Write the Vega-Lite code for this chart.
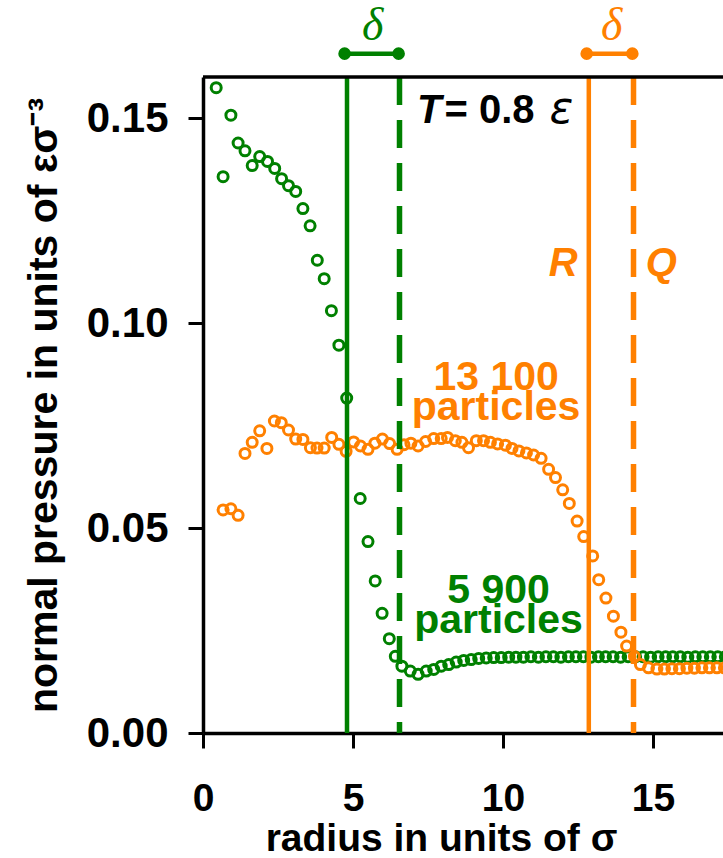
{
  "$schema": "https://vega.github.io/schema/vega-lite/v6.json",
  "width": 520,
  "height": 656,
  "autosize": {"type": "none"},
  "padding": {"left": 203, "top": 77, "right": 0, "bottom": 125},
  "background": "white",
  "config": {
    "view": {"stroke": null},
    "axis": {
      "grid": false,
      "labelFlush": false,
      "domainColor": "black",
      "domainWidth": 3.5,
      "tickColor": "black",
      "tickWidth": 3,
      "tickSize": 15,
      "labelFont": "Liberation Sans",
      "labelFontWeight": "bold",
      "labelFontSize": 39,
      "labelColor": "black",
      "titleFont": "Liberation Sans",
      "titleFontWeight": "bold",
      "titleFontSize": 39,
      "titleColor": "black"
    }
  },
  "datasets": {
    "pts": [
      {"r": 0.44, "p": 0.1574, "s": "5 900"},
      {"r": 0.67, "p": 0.1357, "s": "5 900"},
      {"r": 0.93, "p": 0.1507, "s": "5 900"},
      {"r": 1.17, "p": 0.1439, "s": "5 900"},
      {"r": 1.40, "p": 0.1420, "s": "5 900"},
      {"r": 1.64, "p": 0.1384, "s": "5 900"},
      {"r": 1.89, "p": 0.1406, "s": "5 900"},
      {"r": 2.15, "p": 0.1394, "s": "5 900"},
      {"r": 2.39, "p": 0.1377, "s": "5 900"},
      {"r": 2.62, "p": 0.1352, "s": "5 900"},
      {"r": 2.85, "p": 0.1335, "s": "5 900"},
      {"r": 3.09, "p": 0.1321, "s": "5 900"},
      {"r": 3.33, "p": 0.1279, "s": "5 900"},
      {"r": 3.57, "p": 0.1237, "s": "5 900"},
      {"r": 3.81, "p": 0.1153, "s": "5 900"},
      {"r": 4.04, "p": 0.1108, "s": "5 900"},
      {"r": 4.28, "p": 0.1030, "s": "5 900"},
      {"r": 4.53, "p": 0.0946, "s": "5 900"},
      {"r": 4.79, "p": 0.0817, "s": "5 900"},
      {"r": 5.24, "p": 0.0572, "s": "5 900"},
      {"r": 5.50, "p": 0.0467, "s": "5 900"},
      {"r": 5.74, "p": 0.0371, "s": "5 900"},
      {"r": 5.97, "p": 0.0292, "s": "5 900"},
      {"r": 6.21, "p": 0.0230, "s": "5 900"},
      {"r": 6.41, "p": 0.0187, "s": "5 900"},
      {"r": 6.63, "p": 0.0163, "s": "5 900"},
      {"r": 6.91, "p": 0.0151, "s": "5 900"},
      {"r": 7.17, "p": 0.0143, "s": "5 900"},
      {"r": 7.44, "p": 0.0151, "s": "5 900"},
      {"r": 7.69, "p": 0.0155, "s": "5 900"},
      {"r": 7.94, "p": 0.0163, "s": "5 900"},
      {"r": 8.19, "p": 0.0167, "s": "5 900"},
      {"r": 8.44, "p": 0.0173, "s": "5 900"},
      {"r": 8.69, "p": 0.0177, "s": "5 900"},
      {"r": 8.94, "p": 0.0179, "s": "5 900"},
      {"r": 9.19, "p": 0.0182, "s": "5 900"},
      {"r": 9.44, "p": 0.0183, "s": "5 900"},
      {"r": 9.69, "p": 0.0184, "s": "5 900"},
      {"r": 9.94, "p": 0.0184, "s": "5 900"},
      {"r": 10.19, "p": 0.0185, "s": "5 900"},
      {"r": 10.43, "p": 0.0185, "s": "5 900"},
      {"r": 10.68, "p": 0.0185, "s": "5 900"},
      {"r": 10.93, "p": 0.0186, "s": "5 900"},
      {"r": 11.18, "p": 0.0185, "s": "5 900"},
      {"r": 11.43, "p": 0.0186, "s": "5 900"},
      {"r": 11.68, "p": 0.0186, "s": "5 900"},
      {"r": 11.93, "p": 0.0185, "s": "5 900"},
      {"r": 12.18, "p": 0.0186, "s": "5 900"},
      {"r": 12.43, "p": 0.0186, "s": "5 900"},
      {"r": 12.68, "p": 0.0186, "s": "5 900"},
      {"r": 12.93, "p": 0.0185, "s": "5 900"},
      {"r": 13.18, "p": 0.0186, "s": "5 900"},
      {"r": 13.42, "p": 0.0186, "s": "5 900"},
      {"r": 13.67, "p": 0.0186, "s": "5 900"},
      {"r": 13.92, "p": 0.0185, "s": "5 900"},
      {"r": 14.17, "p": 0.0186, "s": "5 900"},
      {"r": 14.42, "p": 0.0186, "s": "5 900"},
      {"r": 14.67, "p": 0.0186, "s": "5 900"},
      {"r": 14.92, "p": 0.0185, "s": "5 900"},
      {"r": 15.17, "p": 0.0186, "s": "5 900"},
      {"r": 15.42, "p": 0.0186, "s": "5 900"},
      {"r": 15.66, "p": 0.0186, "s": "5 900"},
      {"r": 15.91, "p": 0.0186, "s": "5 900"},
      {"r": 16.16, "p": 0.0185, "s": "5 900"},
      {"r": 16.41, "p": 0.0186, "s": "5 900"},
      {"r": 16.66, "p": 0.0186, "s": "5 900"},
      {"r": 16.91, "p": 0.0186, "s": "5 900"},
      {"r": 17.16, "p": 0.0186, "s": "5 900"},
      {"r": 17.41, "p": 0.0186, "s": "5 900"},
      {"r": 0.67, "p": 0.0544, "s": "13 100"},
      {"r": 0.93, "p": 0.0547, "s": "13 100"},
      {"r": 1.17, "p": 0.0531, "s": "13 100"},
      {"r": 1.40, "p": 0.0682, "s": "13 100"},
      {"r": 1.64, "p": 0.0709, "s": "13 100"},
      {"r": 1.89, "p": 0.0737, "s": "13 100"},
      {"r": 2.13, "p": 0.0694, "s": "13 100"},
      {"r": 2.38, "p": 0.0761, "s": "13 100"},
      {"r": 2.61, "p": 0.0757, "s": "13 100"},
      {"r": 2.85, "p": 0.0739, "s": "13 100"},
      {"r": 3.09, "p": 0.0717, "s": "13 100"},
      {"r": 3.33, "p": 0.0716, "s": "13 100"},
      {"r": 3.58, "p": 0.0696, "s": "13 100"},
      {"r": 3.80, "p": 0.0695, "s": "13 100"},
      {"r": 4.04, "p": 0.0695, "s": "13 100"},
      {"r": 4.29, "p": 0.0721, "s": "13 100"},
      {"r": 4.53, "p": 0.0704, "s": "13 100"},
      {"r": 4.77, "p": 0.0687, "s": "13 100"},
      {"r": 5.02, "p": 0.0710, "s": "13 100"},
      {"r": 5.25, "p": 0.0700, "s": "13 100"},
      {"r": 5.50, "p": 0.0692, "s": "13 100"},
      {"r": 5.73, "p": 0.0707, "s": "13 100"},
      {"r": 5.98, "p": 0.0717, "s": "13 100"},
      {"r": 6.22, "p": 0.0706, "s": "13 100"},
      {"r": 6.47, "p": 0.0692, "s": "13 100"},
      {"r": 6.70, "p": 0.0703, "s": "13 100"},
      {"r": 6.93, "p": 0.0707, "s": "13 100"},
      {"r": 7.17, "p": 0.0700, "s": "13 100"},
      {"r": 7.42, "p": 0.0711, "s": "13 100"},
      {"r": 7.69, "p": 0.0718, "s": "13 100"},
      {"r": 7.94, "p": 0.0718, "s": "13 100"},
      {"r": 8.15, "p": 0.0721, "s": "13 100"},
      {"r": 8.41, "p": 0.0713, "s": "13 100"},
      {"r": 8.63, "p": 0.0709, "s": "13 100"},
      {"r": 8.85, "p": 0.0696, "s": "13 100"},
      {"r": 9.11, "p": 0.0713, "s": "13 100"},
      {"r": 9.35, "p": 0.0713, "s": "13 100"},
      {"r": 9.58, "p": 0.0709, "s": "13 100"},
      {"r": 9.82, "p": 0.0705, "s": "13 100"},
      {"r": 10.08, "p": 0.0702, "s": "13 100"},
      {"r": 10.30, "p": 0.0694, "s": "13 100"},
      {"r": 10.53, "p": 0.0688, "s": "13 100"},
      {"r": 10.78, "p": 0.0683, "s": "13 100"},
      {"r": 11.02, "p": 0.0678, "s": "13 100"},
      {"r": 11.27, "p": 0.0670, "s": "13 100"},
      {"r": 11.52, "p": 0.0643, "s": "13 100"},
      {"r": 11.75, "p": 0.0623, "s": "13 100"},
      {"r": 11.99, "p": 0.0593, "s": "13 100"},
      {"r": 12.21, "p": 0.0560, "s": "13 100"},
      {"r": 12.47, "p": 0.0517, "s": "13 100"},
      {"r": 12.69, "p": 0.0479, "s": "13 100"},
      {"r": 12.99, "p": 0.0432, "s": "13 100"},
      {"r": 13.19, "p": 0.0374, "s": "13 100"},
      {"r": 13.43, "p": 0.0329, "s": "13 100"},
      {"r": 13.68, "p": 0.0285, "s": "13 100"},
      {"r": 13.93, "p": 0.0246, "s": "13 100"},
      {"r": 14.12, "p": 0.0212, "s": "13 100"},
      {"r": 14.38, "p": 0.0187, "s": "13 100"},
      {"r": 14.58, "p": 0.0167, "s": "13 100"},
      {"r": 14.85, "p": 0.0159, "s": "13 100"},
      {"r": 15.13, "p": 0.0156, "s": "13 100"},
      {"r": 15.38, "p": 0.0156, "s": "13 100"},
      {"r": 15.63, "p": 0.0157, "s": "13 100"},
      {"r": 15.88, "p": 0.0157, "s": "13 100"},
      {"r": 16.13, "p": 0.0158, "s": "13 100"},
      {"r": 16.38, "p": 0.0158, "s": "13 100"},
      {"r": 16.63, "p": 0.0159, "s": "13 100"},
      {"r": 16.88, "p": 0.0159, "s": "13 100"},
      {"r": 17.13, "p": 0.0159, "s": "13 100"},
      {"r": 17.38, "p": 0.0159, "s": "13 100"}
    ],
    "vlines": [
      {"r": 4.80, "s": "5 900", "k": "solid"},
      {"r": 6.55, "s": "5 900", "k": "dashed"},
      {"r": 12.86, "s": "13 100", "k": "solid"},
      {"r": 14.35, "s": "13 100", "k": "dashed"}
    ],
    "brackets": [
      {"r": 4.72, "r2": 6.52, "p": 0.1657, "s": "5 900"},
      {"r": 12.79, "r2": 14.31, "p": 0.1657, "s": "13 100"}
    ],
    "ends": [
      {"r": 4.72, "p": 0.1657, "s": "5 900"},
      {"r": 6.52, "p": 0.1657, "s": "5 900"},
      {"r": 12.79, "p": 0.1657, "s": "13 100"},
      {"r": 14.31, "p": 0.1657, "s": "13 100"}
    ],
    "deltas": [
      {"r": 5.66, "p": 0.1690, "s": "5 900", "label": "δ"},
      {"r": 13.62, "p": 0.1690, "s": "13 100", "label": "δ"}
    ],
    "counts": [
      {"r": 9.77, "p": 0.0836, "s": "13 100", "label": "13 100\nparticles"},
      {"r": 9.85, "p": 0.0316, "s": "5 900", "label": "5 900\nparticles"}
    ],
    "tlabel": [{"r": 7.13, "p": 0.1489, "label": "T"}],
    "eqlabel": [{"r": 8.05, "p": 0.1489, "label": "= 0.8"}],
    "epslabel": [{"r": 11.55, "p": 0.1489, "label": "ε"}],
    "rq": [
      {"r": 12.01, "p": 0.1115, "label": "R"},
      {"r": 15.28, "p": 0.1115, "label": "Q"}
    ]
  },
  "layer": [
    {
      "data": {"name": "pts"},
      "mark": {"type": "point", "shape": "circle", "filled": false, "size": 100, "strokeWidth": 3, "opacity": 1},
      "encoding": {
        "x": {
          "field": "r",
          "type": "quantitative",
          "scale": {"domain": [0, 17.333], "nice": false, "zero": false},
          "axis": {
            "title": "radius in units of σ",
            "values": [0, 5, 10, 15],
            "format": "d",
            "labelPadding": 31,
            "titleX": 238,
            "titleY": 117,
            "titleBaseline": "alphabetic"
          }
        },
        "y": {
          "field": "p",
          "type": "quantitative",
          "scale": {"domain": [0, 0.16], "nice": false},
          "axis": {
            "title": "normal pressure in units of εσ⁻³",
            "values": [0, 0.05, 0.1, 0.15],
            "format": ".2f",
            "labelPadding": 20,
            "labelFontSize": 42,
            "titleFontSize": 41,
            "titleX": -159,
            "titleBaseline": "middle"
          }
        },
        "color": {"field": "s", "type": "nominal", "scale": {"domain": ["5 900", "13 100"], "range": ["#008000", "#ff8000"]}, "legend": null}
      }
    },
    {
      "data": {"name": "vlines"},
      "transform": [{"filter": "datum.k === 'solid'"}],
      "mark": {"type": "rule", "strokeWidth": 4.5},
      "encoding": {
        "x": {"field": "r", "type": "quantitative"},
        "y": {"datum": 0.16, "type": "quantitative"},
        "y2": {"datum": 0},
        "color": {"field": "s", "type": "nominal", "scale": {"domain": ["5 900", "13 100"], "range": ["#008000", "#ff8000"]}, "legend": null}
      }
    },
    {
      "data": {"name": "vlines"},
      "transform": [{"filter": "datum.k === 'dashed'"}],
      "mark": {"type": "rule", "strokeWidth": 5.5, "strokeDash": [28, 15]},
      "encoding": {
        "x": {"field": "r", "type": "quantitative"},
        "y": {"datum": 0.16, "type": "quantitative"},
        "y2": {"datum": 0},
        "color": {"field": "s", "type": "nominal", "scale": {"domain": ["5 900", "13 100"], "range": ["#008000", "#ff8000"]}, "legend": null}
      }
    },
    {
      "data": {"values": [{"r": 0, "r2": 17.333, "p": 0.16}]},
      "mark": {"type": "rule", "strokeWidth": 3.5, "color": "black"},
      "encoding": {
        "x": {"field": "r", "type": "quantitative"},
        "x2": {"field": "r2"},
        "y": {"field": "p", "type": "quantitative"}
      }
    },
    {
      "data": {"name": "brackets"},
      "mark": {"type": "rule", "strokeWidth": 4.5, "clip": false},
      "encoding": {
        "x": {"field": "r", "type": "quantitative"},
        "x2": {"field": "r2"},
        "y": {"field": "p", "type": "quantitative"},
        "color": {"field": "s", "type": "nominal", "scale": {"domain": ["5 900", "13 100"], "range": ["#008000", "#ff8000"]}, "legend": null}
      }
    },
    {
      "data": {"name": "ends"},
      "mark": {"type": "point", "shape": "circle", "filled": true, "size": 160, "opacity": 1, "clip": false},
      "encoding": {
        "x": {"field": "r", "type": "quantitative"},
        "y": {"field": "p", "type": "quantitative"},
        "color": {"field": "s", "type": "nominal", "scale": {"domain": ["5 900", "13 100"], "range": ["#008000", "#ff8000"]}, "legend": null}
      }
    },
    {
      "data": {"name": "deltas"},
      "mark": {"type": "text", "font": "Liberation Serif", "fontStyle": "italic", "fontSize": 46, "align": "center", "baseline": "alphabetic", "clip": false},
      "encoding": {
        "x": {"field": "r", "type": "quantitative"},
        "y": {"field": "p", "type": "quantitative"},
        "text": {"field": "label"},
        "color": {"field": "s", "type": "nominal", "scale": {"domain": ["5 900", "13 100"], "range": ["#008000", "#ff8000"]}, "legend": null}
      }
    },
    {
      "data": {"name": "counts"},
      "mark": {"type": "text", "font": "Liberation Sans", "fontWeight": "bold", "fontSize": 41, "align": "center", "baseline": "alphabetic", "lineBreak": "\n", "lineHeight": 30},
      "encoding": {
        "x": {"field": "r", "type": "quantitative"},
        "y": {"field": "p", "type": "quantitative"},
        "text": {"field": "label"},
        "color": {"field": "s", "type": "nominal", "scale": {"domain": ["5 900", "13 100"], "range": ["#008000", "#ff8000"]}, "legend": null}
      }
    },
    {
      "data": {"name": "tlabel"},
      "mark": {"type": "text", "font": "Liberation Sans", "fontWeight": "bold", "fontStyle": "italic", "fontSize": 40, "align": "left", "baseline": "alphabetic", "color": "black"},
      "encoding": {
        "x": {"field": "r", "type": "quantitative"},
        "y": {"field": "p", "type": "quantitative"},
        "text": {"field": "label"}
      }
    },
    {
      "data": {"name": "eqlabel"},
      "mark": {"type": "text", "font": "Liberation Sans", "fontWeight": "bold", "fontSize": 40, "align": "left", "baseline": "alphabetic", "color": "black"},
      "encoding": {
        "x": {"field": "r", "type": "quantitative"},
        "y": {"field": "p", "type": "quantitative"},
        "text": {"field": "label"}
      }
    },
    {
      "data": {"name": "epslabel"},
      "mark": {"type": "text", "font": "DejaVu Sans", "fontStyle": "italic", "fontSize": 44, "align": "left", "baseline": "alphabetic", "color": "black"},
      "encoding": {
        "x": {"field": "r", "type": "quantitative"},
        "y": {"field": "p", "type": "quantitative"},
        "text": {"field": "label"}
      }
    },
    {
      "data": {"name": "rq"},
      "mark": {"type": "text", "font": "Liberation Sans", "fontWeight": "bold", "fontStyle": "italic", "fontSize": 40, "align": "center", "baseline": "alphabetic", "color": "#ff8000"},
      "encoding": {
        "x": {"field": "r", "type": "quantitative"},
        "y": {"field": "p", "type": "quantitative"},
        "text": {"field": "label"}
      }
    }
  ]
}
